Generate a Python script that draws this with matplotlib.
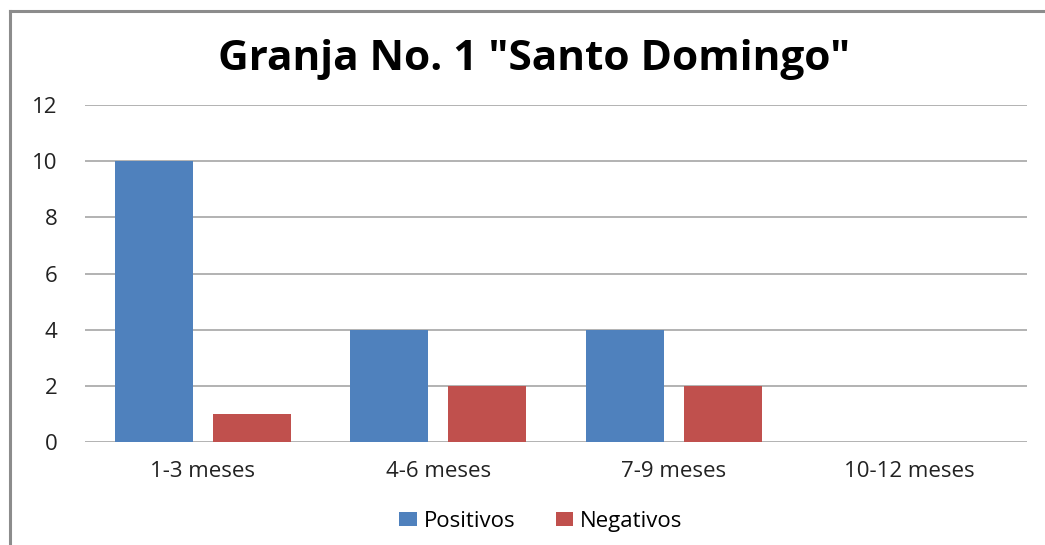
import numpy as np
from matplotlib import pyplot as plt
from matplotlib.lines import Line2D

categorias = ["1-3 meses", "4-6 meses", "7-9 meses", "10-12 meses"]
positivos = [10, 4, 4, 0]
negativos = [1, 2, 2, 0]
yticks = [0, 2, 4, 6, 8, 10, 12]

plt.rcParams['font.family'] = ['Open Sans', 'DejaVu Sans']

fig = plt.figure(figsize=(10.45, 5.45), dpi=100)
ax = fig.add_axes([85 / 1045, 1 - 442 / 545, (1027 - 85) / 1045, (442 - 105) / 545])

x = np.arange(len(categorias))
w = 0.331
gap = 0.085
ax.bar(x - (w + gap) / 2, positivos, w, color="#4F81BD", label="Positivos", zorder=3)
ax.bar(x + (w + gap) / 2, negativos, w, color="#C0504D", label="Negativos", zorder=3)

ax.set_xlim(-0.5, len(categorias) - 0.5)
ax.set_ylim(0, 12)
ax.set_yticks(yticks)
ax.set_xticks(x)
ax.set_xticklabels(categorias)
ax.tick_params(axis="both", length=0, labelsize=16, colors="#222222")
ax.tick_params(axis="y", pad=20)
ax.tick_params(axis="x", pad=14)
for s in ax.spines.values():
    s.set_visible(False)
ax.grid(axis="y", color="#A6A6A6", linewidth=1.2, zorder=0)

fig.text(0.511, 0.891, 'Granja No. 1 "Santo Domingo"', ha="center", va="center",
         fontsize=30.5, fontweight="bold", color="#000000")

ax.legend(loc="center", bbox_to_anchor=(0.484, -0.235), ncol=2, frameon=False,
          fontsize=16, handlelength=0.8, handleheight=0.6, handletextpad=0.3,
          columnspacing=1.8)

# marco del grafico (solo borde izquierdo y superior visibles)
fig.add_artist(Line2D([9.5 / 1045, 9.5 / 1045], [0, 1 - 11 / 545], color="#8C8C8C", linewidth=2.2))
fig.add_artist(Line2D([9.5 / 1045, 1], [1 - 11 / 545, 1 - 11 / 545], color="#8C8C8C", linewidth=2.2))

fig.savefig("out.png", dpi=100)
